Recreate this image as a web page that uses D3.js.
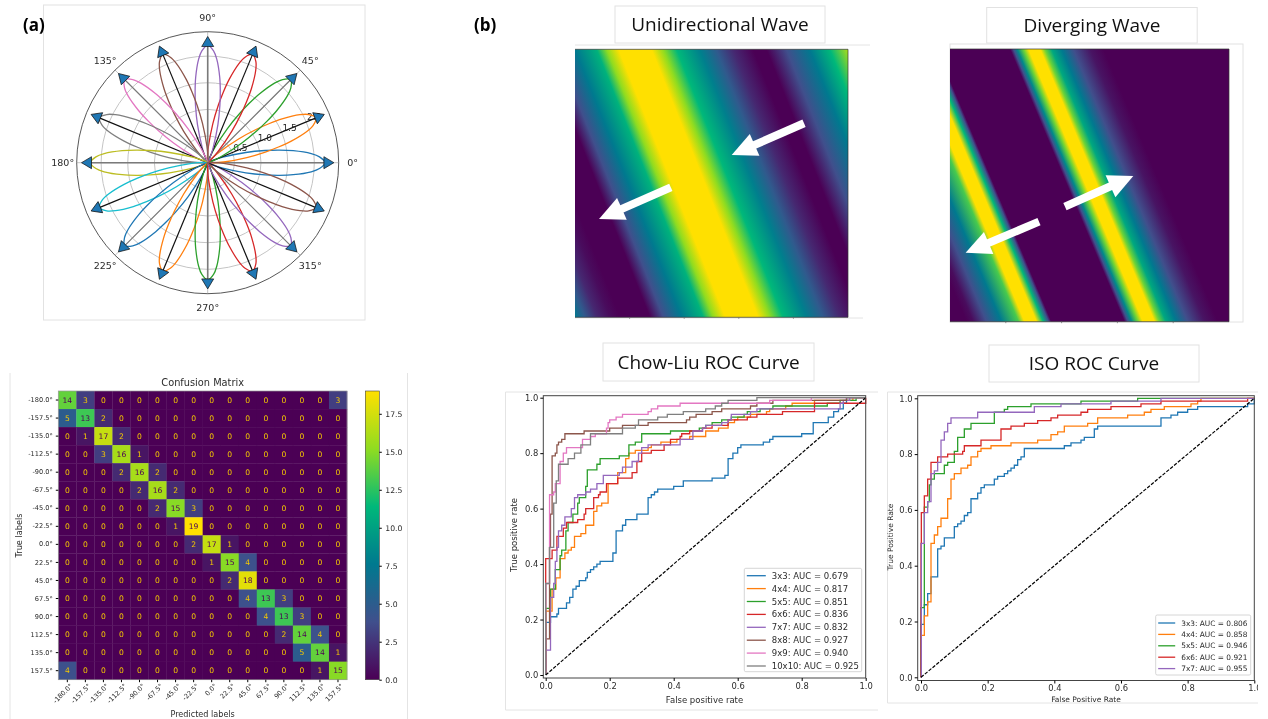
<!DOCTYPE html>
<html>
<head>
<meta charset="utf-8">
<script src="https://cdn.jsdelivr.net/npm/d3@7"></script>
<style>
  body { margin: 0; background: #fff; }
  svg { display: block; }
  text { font-family: "DejaVu Sans", sans-serif; fill: #2b2b2b; }
  .panel-title { font-family: "Open Sans", sans-serif; font-size: 19px; fill: #111; }
  .panel-tag { font-family: "Open Sans", sans-serif; font-size: 17px; font-weight: 700; fill: #000; }
</style>
</head>
<body>
<div id="chart"></div>
<script>
// ---- polar panel ----
const petalAngles = [0, 22.5, 45, 67.5, 90, 112.5, 135, 157.5, 180, 202.5, 225, 247.5, 270, 292.5, 315, 337.5];
const petalColors = ["#1f77b4", "#ff7f0e", "#2ca02c", "#d62728", "#9467bd", "#8c564b", "#e377c2", "#7f7f7f",
  "#bcbd22", "#17becf", "#1f77b4", "#ff7f0e", "#2ca02c", "#d62728", "#9467bd", "#8c564b"];
const petalOffsets = [0, 3, 5, 8, 10, 12, 15, 20, 25, 30, 40];
const petalRadii = [2.2, 2.1, 1.95, 1.62, 1.36, 1.1, 0.74, 0.3, 0.1, 0.02, 0];
const polarRadialTicks = [0.5, 1.0, 1.5, 2.0];
const polarAngleTicks = [0, 45, 90, 135, 180, 225, 270, 315];

// colours as they come out in the screenshot, a bit off true viridis
const rampLevels = [0, 0.2, 0.4, 0.6, 0.8, 1];
const rampColors = ["#4b0055", "#404f8c", "#00798f", "#00b87a", "#90dc20", "#ffe000"];
const ramp = d3.scaleLinear().domain(rampLevels).range(rampColors);

// ---- wave panels: level along the top row, x in % of image width ----
const uniStopX = [-39, -35.4, -31, -26.2, -22.6, -11.6, -6.7, 0, 7.9, 11.6, 16, 28, 32.3, 37.2, 45.7, 51.8, 57.9, 65.2, 70.1, 77.4, 86, 93.3, 100];
const uniStopV = [0.4, 0.25, 0.1, 0.03, 0, 0, 0.2, 0.4, 0.58, 0.8, 1, 1, 0.8, 0.6, 0.42, 0.25, 0.1, 0, 0, 0.2, 0.4, 0.6, 0.85];
const divStopX = [-41, -35.1, -32.7, -28, -22.6, -16.5, -14.3, -10, -7.6, -5.7, -4.7, 21.5, 22.7, 24.1, 26.3, 28.1, 32.3, 34, 36.4, 40, 44.2, 50.2, 55, 100];
const divStopV = [0, 0, 0.03, 0.2, 0.4, 0.7, 1, 1, 0.6, 0.2, 0, 0, 0.2, 0.45, 0.75, 1, 1, 0.75, 0.55, 0.4, 0.2, 0.05, 0, 0];
const waveTicks = [20, 40, 60, 80];
const uniArrows = [[83.9, 27.6, 57.4, 39.4], [35.1, 51.5, 8.8, 63.3]];
const divArrows = [[41.2, 57.8, 65.7, 46.6], [31.9, 63.3, 5.6, 74.7]];

// ---- confusion matrix ----
const cmLabels = ["-180.0°", "-157.5°", "-135.0°", "-112.5°", "-90.0°", "-67.5°", "-45.0°", "-22.5°",
  "0.0°", "22.5°", "45.0°", "67.5°", "90.0°", "112.5°", "135.0°", "157.5°"];
const cmValues = [
  [14, 3, 0, 0, 0, 0, 0, 0, 0, 0, 0, 0, 0, 0, 0, 3],
  [5, 13, 2, 0, 0, 0, 0, 0, 0, 0, 0, 0, 0, 0, 0, 0],
  [0, 1, 17, 2, 0, 0, 0, 0, 0, 0, 0, 0, 0, 0, 0, 0],
  [0, 0, 3, 16, 1, 0, 0, 0, 0, 0, 0, 0, 0, 0, 0, 0],
  [0, 0, 0, 2, 16, 2, 0, 0, 0, 0, 0, 0, 0, 0, 0, 0],
  [0, 0, 0, 0, 2, 16, 2, 0, 0, 0, 0, 0, 0, 0, 0, 0],
  [0, 0, 0, 0, 0, 2, 15, 3, 0, 0, 0, 0, 0, 0, 0, 0],
  [0, 0, 0, 0, 0, 0, 1, 19, 0, 0, 0, 0, 0, 0, 0, 0],
  [0, 0, 0, 0, 0, 0, 0, 2, 17, 1, 0, 0, 0, 0, 0, 0],
  [0, 0, 0, 0, 0, 0, 0, 0, 1, 15, 4, 0, 0, 0, 0, 0],
  [0, 0, 0, 0, 0, 0, 0, 0, 0, 2, 18, 0, 0, 0, 0, 0],
  [0, 0, 0, 0, 0, 0, 0, 0, 0, 0, 4, 13, 3, 0, 0, 0],
  [0, 0, 0, 0, 0, 0, 0, 0, 0, 0, 0, 4, 13, 3, 0, 0],
  [0, 0, 0, 0, 0, 0, 0, 0, 0, 0, 0, 0, 2, 14, 4, 0],
  [0, 0, 0, 0, 0, 0, 0, 0, 0, 0, 0, 0, 0, 5, 14, 1],
  [4, 0, 0, 0, 0, 0, 0, 0, 0, 0, 0, 0, 0, 0, 1, 15]
];
const cbTicks = [0, 2.5, 5, 7.5, 10, 12.5, 15, 17.5];

// ---- ROC curves: fpr at each jump, tpr after the jump ----
const rocColors = ["#1f77b4", "#ff7f0e", "#2ca02c", "#d62728", "#9467bd", "#8c564b", "#e377c2", "#7f7f7f"];
const rocTicks = [0, 0.2, 0.4, 0.6, 0.8, 1.0];

const chowNames = ["3x3: AUC = 0.679", "4x4: AUC = 0.817", "5x5: AUC = 0.851", "6x6: AUC = 0.836",
  "7x7: AUC = 0.832", "8x8: AUC = 0.927", "9x9: AUC = 0.940", "10x10: AUC = 0.925"];
const chowFpr = [
  [0, .005, .015, .035, .04, .065, .075, .085, .095, .105, .125, .13, .14, .15, .16, .17, .21, .22, .24, .25, .285, .32, .33, .34, .35, .40, .43, .52, .56, .57, .585, .60, .61, .68, .70, .71, .80, .836, .883, .90, .915, .93, .94, 1],
  [0, .005, .02, .032, .045, .06, .07, .08, .09, .11, .125, .15, .16, .175, .195, .225, .25, .26, .28, .32, .33, .36, .41, .45, .50, .54, .57, .59, .60, .64, .69, .70, .75, .77, .84, .96, 1],
  [0, .003, .015, .03, .045, .05, .063, .07, .085, .10, .105, .125, .13, .16, .17, .23, .26, .28, .30, .39, .48, .50, .52, .55, .58, .62, .63, .67, .71, .88, .92, .94, .97, 1],
  [0, .003, .02, .035, .055, .065, .10, .12, .125, .15, .165, .17, .19, .225, .27, .285, .30, .33, .37, .39, .42, .425, .45, .49, .52, .57, .63, .66, .74, .84, 1],
  [0, .005, .015, .025, .03, .035, .04, .05, .06, .08, .09, .10, .125, .14, .16, .18, .23, .24, .27, .29, .30, .32, .42, .46, .49, .50, .55, .57, .58, .64, .66, .92, .93, .95, 1],
  [0, .005, .012, .015, .02, .03, .035, .04, .05, .06, .12, .20, .24, .32, .44, .45, .47, .52, .55, .64, .66, .71, .94, 1],
  [0, .002, .012, .025, .03, .045, .055, .065, .115, .14, .155, .19, .195, .20, .22, .24, .32, .33, .35, .42, .70, .83, 1],
  [0, .002, .012, .025, .033, .04, .07, .09, .11, .14, .24, .28, .29, .35, .38, .43, .50, .53, .55, .57, .66, 1]
];
const chowTpr = [
  [.19, .19, .21, .22, .24, .26, .28, .31, .32, .34, .35, .37, .38, .39, .40, .41, .44, .52, .54, .56, .58, .64, .65, .66, .67, .68, .70, .71, .72, .78, .80, .82, .83, .84, .85, .86, .87, .91, .93, .95, .96, .98, 1, 1],
  [.23, .23, .31, .35, .42, .44, .45, .46, .50, .51, .54, .59, .61, .62, .69, .73, .78, .80, .81, .82, .83, .84, .85, .86, .88, .89, .91, .92, .93, .94, .95, .96, .97, .98, .99, 1, 1],
  [.24, .24, .31, .38, .43, .45, .52, .55, .58, .62, .64, .68, .74, .76, .78, .79, .83, .84, .87, .88, .89, .90, .91, .92, .93, .94, .95, .96, .97, .98, .99, .99, 1, 1],
  [.42, .42, .45, .50, .53, .55, .56, .58, .60, .64, .65, .66, .69, .71, .73, .77, .80, .81, .83, .85, .86, .87, .88, .89, .90, .92, .93, .94, .95, .98, 1],
  [.09, .09, .28, .33, .41, .46, .52, .54, .57, .60, .64, .65, .66, .67, .69, .72, .73, .75, .77, .80, .82, .83, .85, .88, .89, .90, .91, .92, .94, .95, .96, .98, .99, 1, 1],
  [.13, .13, .46, .58, .79, .80, .83, .84, .85, .87, .88, .89, .90, .91, .92, .93, .94, .95, .96, .97, .98, .99, 1, 1],
  [.33, .33, .65, .66, .69, .77, .80, .82, .85, .86, .87, .89, .91, .92, .93, .94, .95, .96, .97, .98, .99, 1, 1],
  [.33, .33, .46, .62, .70, .76, .78, .80, .83, .87, .89, .90, .92, .93, .94, .95, .96, .97, .98, .99, 1, 1]
];

const isoNames = ["3x3: AUC = 0.806", "4x4: AUC = 0.858", "5x5: AUC = 0.946", "6x6: AUC = 0.921", "7x7: AUC = 0.955"];
const isoFpr = [
  [0, .002, .01, .02, .03, .05, .06, .07, .10, .11, .12, .13, .14, .15, .17, .18, .19, .22, .23, .25, .26, .27, .28, .29, .30, .31, .43, .45, .48, .49, .52, .53, .72, .75, .77, .80, .83, .98, 1],
  [0, .002, .01, .02, .03, .04, .05, .06, .08, .09, .10, .12, .14, .15, .17, .18, .21, .27, .35, .39, .41, .43, .50, .53, .62, .67, .69, .73, .81, .83, .84, .88, 1],
  [0, .005, .01, .02, .025, .03, .04, .07, .08, .10, .11, .13, .15, .22, .25, .26, .33, .48, .65, 1],
  [0, .001, .01, .02, .03, .05, .08, .125, .13, .18, .24, .27, .31, .35, .39, .41, .48, .50, .57, .66, .72, .98, 1],
  [0, .001, .01, .02, .03, .04, .05, .06, .07, .08, .09, .17, .34, .42, .57, .72, 1]
];
const isoTpr = [
  [.19, .19, .26, .30, .36, .46, .47, .50, .54, .55, .56, .58, .59, .64, .66, .68, .69, .71, .72, .73, .74, .75, .76, .78, .79, .82, .83, .84, .85, .86, .89, .90, .93, .94, .95, .96, .97, .98, 1],
  [.15, .15, .22, .27, .48, .51, .54, .57, .64, .71, .73, .75, .76, .79, .81, .82, .83, .84, .85, .87, .88, .90, .91, .93, .94, .95, .96, .97, .98, .99, 1, 1, 1],
  [.25, .25, .61, .63, .69, .71, .73, .76, .77, .81, .86, .89, .91, .95, .96, .97, .98, .99, 1, 1],
  [.48, .59, .65, .71, .77, .79, .80, .81, .83, .85, .89, .90, .91, .92, .93, .94, .95, .96, .97, .98, .99, 1, 1],
  [0, .48, .59, .63, .73, .74, .77, .85, .88, .91, .93, .95, .97, .98, .99, 1, 1]
];

const svg = d3.select("#chart").append("svg").attr("width", 1268).attr("height", 719);

// light panel frames behind everything, screenshot style
function panelFrame(x, y, w, h) {
  svg.append("rect").attr("x", x).attr("y", y).attr("width", w).attr("height", h)
    .attr("fill", "#fff").attr("stroke", "#e2e2e2").attr("stroke-width", 1);
}

function panelLines(d) {
  svg.append("path").attr("d", d).attr("fill", "none").attr("stroke", "#e4e4e4").attr("stroke-width", 1);
}

function titleBox(x, y, w, h, label) {
  panelFrame(x, y, w, h);
  svg.append("text").attr("class", "panel-title")
    .attr("x", x + w / 2).attr("y", y + h / 2).attr("dy", "0.36em")
    .attr("text-anchor", "middle").text(label);
}

function drawPolar(root) {
  const cx = 207.7, cy = 162.7, pxPerUnit = 53.3, outer = 131;
  const r = d3.scaleLinear().domain([0, 1]).range([0, pxPerUnit]);
  const g = root.append("g").attr("transform", `translate(${cx},${cy})`);
  const rad = (deg) => (90 - deg) * Math.PI / 180; // lineRadial angle, 0 is up

  g.selectAll(".ring").data(polarRadialTicks).join("circle")
    .attr("r", (d) => r(d)).attr("fill", "none").attr("stroke", "#c4c4c4").attr("stroke-width", 1);
  g.selectAll(".spoke").data(polarAngleTicks).join("line")
    .attr("x2", (d) => outer * Math.cos(d * Math.PI / 180))
    .attr("y2", (d) => -outer * Math.sin(d * Math.PI / 180))
    .attr("stroke", "#c4c4c4").attr("stroke-width", 1);

  g.selectAll(".r-label").data(polarRadialTicks).join("text")
    .attr("x", (d) => r(d) * Math.cos(Math.PI / 8) + 8)
    .attr("y", (d) => -r(d) * Math.sin(Math.PI / 8) - 4.7)
    .attr("dy", "0.36em").attr("text-anchor", "middle").style("font-size", "9px")
    .text((d) => d.toFixed(1));

  const petal = d3.lineRadial().curve(d3.curveCatmullRomClosed);
  const side = petalOffsets.map((o, i) => [o, petalRadii[i]]);
  const outline = side.slice().reverse().map(([o, v]) => [-o, v]).concat(side.slice(1, -1));

  petalAngles.forEach((angle, i) => {
    const shaftEnd = r(2.2);
    const dir = angle * Math.PI / 180;
    g.append("line")
      .attr("x2", shaftEnd * Math.cos(dir)).attr("y2", -shaftEnd * Math.sin(dir))
      .attr("stroke", i % 2 === 0 ? "#7a7a7a" : "#111").attr("stroke-width", i % 4 === 0 ? 1.6 : 1.2);
    g.append("path")
      .attr("d", petal(outline.map(([o, v]) => [rad(angle + o), r(v)])))
      .attr("fill", "none").attr("stroke", petalColors[i]).attr("stroke-width", 1.3);
    g.append("path")
      .attr("transform", `rotate(${-angle}) translate(${r(2.18)},0)`)
      .attr("d", "M0,-6L10,0L0,6Z")
      .attr("fill", "#1f77b4").attr("stroke", "#111").attr("stroke-width", 0.7);
  });

  g.append("circle").attr("r", outer).attr("fill", "none").attr("stroke", "#444").attr("stroke-width", 0.9);

  g.selectAll(".a-label").data(polarAngleTicks).join("text")
    .attr("x", (d) => 145 * Math.cos(d * Math.PI / 180))
    .attr("y", (d) => -145 * Math.sin(d * Math.PI / 180))
    .attr("dy", "0.36em").attr("text-anchor", "middle").style("font-size", "9.5px")
    .text((d) => `${d}°`);
}

function drawWave(id, x0, y0, w, h, slope, stopX, stopV, arrows) {
  const xs = d3.scaleLinear().domain([0, 100]).range([x0, x0 + w]);
  const ys = d3.scaleLinear().domain([0, 100]).range([y0, y0 + h]);
  const lo = d3.min(stopX), hi = d3.max(stopX);
  const grad = svg.append("defs").append("linearGradient").attr("id", id)
    .attr("gradientUnits", "userSpaceOnUse")
    .attr("x1", xs(lo)).attr("x2", xs(hi)).attr("y1", y0).attr("y2", y0)
    .attr("gradientTransform", `translate(0,${y0}) skewX(${Math.atan(slope) * 180 / Math.PI}) translate(0,${-y0})`);
  grad.selectAll("stop").data(stopX).join("stop")
    .attr("offset", (d) => (d - lo) / (hi - lo))
    .attr("stop-color", (d, i) => ramp(stopV[i]));
  svg.append("rect").attr("x", x0).attr("y", y0).attr("width", w).attr("height", h)
    .attr("fill", `url(#${id})`);
  svg.append("path").attr("d", `M${x0},${y0}H${x0 + w}V${y0 + h}H${x0}`)
    .attr("fill", "none").attr("stroke", "#333").attr("stroke-width", 0.7);
  svg.selectAll(`.tick-${id}`).data(waveTicks).join("line")
    .attr("x1", (d) => xs(d)).attr("x2", (d) => xs(d))
    .attr("y1", y0 + h).attr("y2", y0 + h + 1.5)
    .attr("stroke", "#666").attr("stroke-width", 0.7);

  arrows.forEach(([ax, ay, bx, by]) => {
    const px = xs(ax), py = ys(ay), qx = xs(bx), qy = ys(by);
    const ang = Math.atan2(qy - py, qx - px);
    const len = Math.hypot(qx - px, qy - py);
    const head = svg.append("g").attr("transform", `translate(${px},${py}) rotate(${ang * 180 / Math.PI})`);
    head.append("rect").attr("y", -4).attr("width", len - 20).attr("height", 8).attr("fill", "#fff");
    head.append("path").attr("d", `M${len},0L${len - 25},-12L${len - 25},12Z`).attr("fill", "#fff");
  });
}

function drawConfusion(root) {
  const left = 58.3, top = 391, size = 288.7;
  const x = d3.scaleBand().domain(cmLabels).range([left, left + size]);
  const y = d3.scaleBand().domain(cmLabels).range([top, top + size]);
  const color = d3.scaleLinear().domain([0, 19]).range([0, 1]);

  const cells = cmValues.flatMap((row, i) => row.map((v, j) => ({ v, px: cmLabels[j], py: cmLabels[i] })));
  root.selectAll(".cm-cell").data(cells).join("rect")
    .attr("x", (d) => x(d.px)).attr("y", (d) => y(d.py))
    .attr("width", x.bandwidth() + 0.3).attr("height", y.bandwidth() + 0.3)
    .attr("fill", (d) => ramp(color(d.v)));
  root.selectAll(".cm-text").data(cells).join("text")
    .attr("x", (d) => x(d.px) + x.bandwidth() / 2).attr("y", (d) => y(d.py) + y.bandwidth() / 2)
    .attr("dy", "0.36em").attr("text-anchor", "middle").style("font-size", "7.6px")
    .style("fill", (d) => (d.v > 9.5 ? rampColors[0] : "#f5c800")).text((d) => d.v);
  root.append("rect").attr("x", left).attr("y", top).attr("width", size).attr("height", size)
    .attr("fill", "none").attr("stroke", "#999").attr("stroke-width", 0.7);

  const xAxisG = root.append("g").attr("transform", `translate(0,${top + size})`)
    .call(d3.axisBottom(x).tickSize(2.5).tickSizeOuter(0));
  xAxisG.select(".domain").remove();
  xAxisG.selectAll("text").style("font-size", "6.6px").style("text-anchor", "end")
    .attr("dx", "-0.1em").attr("dy", "0.5em").attr("transform", "rotate(-45)");
  const yAxisG = root.append("g").attr("transform", `translate(${left},0)`)
    .call(d3.axisLeft(y).tickSize(2.5).tickSizeOuter(0));
  yAxisG.select(".domain").remove();
  yAxisG.selectAll("text").style("font-size", "6.6px");

  root.append("text").attr("x", left + size / 2).attr("y", 386).attr("text-anchor", "middle")
    .style("font-size", "9.8px").text("Confusion Matrix");
  root.append("text").attr("x", left + size / 2).attr("y", 717).attr("text-anchor", "middle")
    .style("font-size", "8.1px").text("Predicted labels");
  root.append("text").attr("transform", "translate(22,535.5) rotate(-90)").attr("text-anchor", "middle")
    .style("font-size", "8.2px").text("True labels");

  // colour bar
  const cb = d3.scaleLinear().domain([0, 19]).range([top + size, top]);
  const barGrad = root.append("defs").append("linearGradient").attr("id", "cm-ramp")
    .attr("x1", 0).attr("x2", 0).attr("y1", 1).attr("y2", 0);
  barGrad.selectAll("stop").data(rampLevels).join("stop")
    .attr("offset", (d) => d).attr("stop-color", (d, i) => rampColors[i]);
  root.append("rect").attr("x", 365.3).attr("y", top).attr("width", 14).attr("height", size)
    .attr("fill", "url(#cm-ramp)").attr("stroke", "#444").attr("stroke-width", 0.6);
  const cbAxis = root.append("g").attr("transform", "translate(379.3,0)")
    .call(d3.axisRight(cb).tickValues(cbTicks).tickFormat(d3.format(".1f")).tickSize(2.5).tickPadding(3.5));
  cbAxis.select(".domain").remove();
  cbAxis.selectAll("text").style("font-size", "7.7px");
}

function drawRoc(root, cfg) {
  const x = d3.scaleLinear().domain([0, 1]).range([cfg.x0, cfg.x1]);
  const y = d3.scaleLinear().domain([0, 1]).range([cfg.y0, cfg.y1]);
  const line = d3.line().x((d) => x(d[0])).y((d) => y(d[1])).curve(d3.curveStepAfter);

  cfg.fpr.forEach((xs, k) => {
    const pts = [[0, 0]].concat(xs.map((v, i) => [v, cfg.tpr[k][i]]));
    root.append("path").attr("d", line(pts)).attr("fill", "none")
      .attr("stroke", rocColors[k]).attr("stroke-width", 1.3);
  });
  root.append("path").attr("d", d3.line().x((d) => x(d)).y((d) => y(d))([0, 1]))
    .attr("stroke", "#000").attr("stroke-width", 1.2).attr("stroke-dasharray", "3.5,1.5");

  root.append("rect").attr("x", cfg.frame[0]).attr("y", cfg.frame[1])
    .attr("width", cfg.frame[2] - cfg.frame[0]).attr("height", cfg.frame[3] - cfg.frame[1])
    .attr("fill", "none").attr("stroke", "#444").attr("stroke-width", 1);

  const xAxisG = root.append("g").attr("transform", `translate(0,${cfg.frame[3]})`)
    .call(d3.axisBottom(x).tickValues(rocTicks).tickFormat(d3.format(".1f")).tickSize(3).tickPadding(2));
  const yAxisG = root.append("g").attr("transform", `translate(${cfg.frame[0]},0)`)
    .call(d3.axisLeft(y).tickValues(rocTicks).tickFormat(d3.format(".1f")).tickSize(3).tickPadding(2));
  [xAxisG, yAxisG].forEach((a) => {
    a.select(".domain").remove();
    a.selectAll("text").style("font-size", "8.4px");
  });

  root.append("text").attr("x", cfg.xLabel[0]).attr("y", cfg.xLabel[1]).attr("text-anchor", "middle")
    .style("font-size", `${cfg.font}px`).text(cfg.xTitle);
  root.append("text").attr("transform", `translate(${cfg.yLabel[0]},${cfg.yLabel[1]}) rotate(-90)`)
    .attr("text-anchor", "middle").style("font-size", `${cfg.font}px`).text(cfg.yTitle);

  const [lx0, ly0, lx1, ly1] = cfg.legend;
  root.append("rect").attr("x", lx0).attr("y", ly0).attr("width", lx1 - lx0).attr("height", ly1 - ly0)
    .attr("rx", 1.5).attr("fill", "#fff").attr("stroke", "#ccc").attr("stroke-width", 0.8);
  const rows = root.selectAll(`.legend-${cfg.id}`).data(cfg.names).join("g")
    .attr("transform", (d, i) => `translate(${lx0 + 2.5},${cfg.legendY + i * cfg.legendStep})`);
  rows.append("line").attr("x2", cfg.handle).attr("stroke", (d, i) => rocColors[i]).attr("stroke-width", 1.3);
  rows.append("text").attr("x", cfg.handle + 6).attr("dy", "0.36em")
    .style("font-size", `${cfg.legendFont}px`).text((d) => d);
}

// frames first
panelFrame(43.5, 5, 321.5, 315);
panelLines("M10,373V719M407.5,373V719");
panelLines("M505.5,710V392H878M505.5,710H878");
panelLines("M887.5,703V392H1258M887.5,703H1258");
panelLines("M575,45H870M575,318H863");
panelFrame(950, 44, 293, 278);

// the source figures are soft, low resolution screenshots
const plots = svg.append("g").style("filter", "blur(0.35px)");

drawPolar(plots);
drawWave("uni-wave", 575, 49.3, 273, 268, 0.398, uniStopX, uniStopV, uniArrows);
drawWave("div-wave", 950, 49, 279, 272.7, 0.42, divStopX, divStopV, divArrows);
drawConfusion(plots);

drawRoc(plots, {
  id: "chow", x0: 545.7, x1: 865.7, y0: 675, y1: 397.7, frame: [543.3, 395.7, 865.7, 678],
  fpr: chowFpr, tpr: chowTpr, names: chowNames, font: 8.5,
  xTitle: "False positive rate", yTitle: "True positive rate", xLabel: [704.5, 703], yLabel: [517, 535],
  legend: [744.3, 568.3, 861.7, 671.7], legendY: 575.7, legendStep: 12.9, handle: 19, legendFont: 8.5
});
drawRoc(plots, {
  id: "iso", x0: 921, x1: 1254.3, y0: 677.3, y1: 398.3, frame: [917.7, 395.7, 1254.3, 680.5],
  fpr: isoFpr, tpr: isoTpr, names: isoNames, font: 7.5,
  xTitle: "False Positive Rate", yTitle: "True Positive Rate", xLabel: [1086, 702], yLabel: [893, 537],
  legend: [1155.7, 615, 1250.7, 675], legendY: 623, legendStep: 11.4, handle: 17, legendFont: 7.4
});

// the ISO screenshot is cropped just past its last tick label
svg.append("rect").attr("x", 1258).attr("y", 680).attr("width", 10).attr("height", 22).attr("fill", "#fff");

titleBox(615, 6, 210, 37, "Unidirectional Wave");
titleBox(986.7, 7.5, 210.5, 35.5, "Diverging Wave");
titleBox(603, 343, 211, 38, "Chow-Liu ROC Curve");
titleBox(989, 345, 210, 37, "ISO ROC Curve");

svg.append("text").attr("class", "panel-tag").attr("x", 23).attr("y", 31).text("(a)");
svg.append("text").attr("class", "panel-tag").attr("x", 474).attr("y", 31).text("(b)");
</script>
</body>
</html>
